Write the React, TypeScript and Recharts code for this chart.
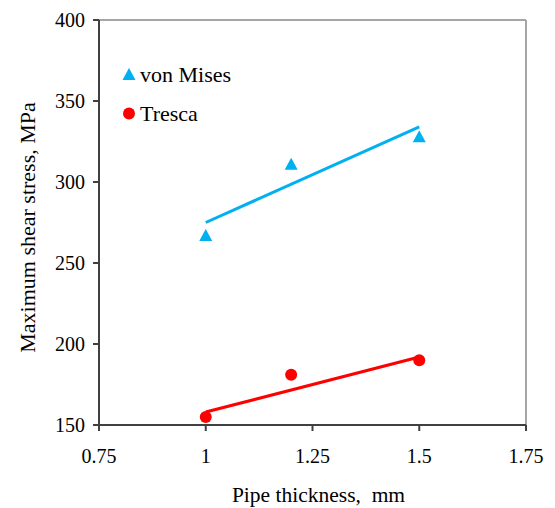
import {
  Legend,
  ReferenceLine,
  Scatter,
  ScatterChart,
  XAxis,
  YAxis,
} from "recharts";

const thickness = [1, 1.2, 1.5];
const vonMises = [267, 311, 328];
const tresca = [155, 181, 190];

const trendX = [1, 1.5];
const vonMisesTrend = [275, 334];
const trescaTrend = [158, 192];

const xTicks = [0.75, 1, 1.25, 1.5, 1.75];
const yTicks = [150, 200, 250, 300, 350, 400];

const BLUE = "#00B0F0";
const RED = "#FF0000";
const AXIS = "#404040";
const FONT = "Liberation Serif, serif";

const toPoints = (xs: number[], ys: number[]) => xs.map((x, i) => ({ x, y: ys[i] }));

const vonMisesData = toPoints(thickness, vonMises);
const trescaData = toPoints(thickness, tresca);
const vonMisesTrendData = toPoints(trendX, vonMisesTrend);
const trescaTrendData = toPoints(trendX, trescaTrend);

function Triangle({ cx, cy, fill }: any) {
  if (cx == null || cy == null) return null;
  return <polygon points={`${cx - 6.5},${cy + 5.5} ${cx + 6.5},${cy + 5.5} ${cx},${cy - 6.5}`} fill={fill} />;
}

function Dot({ cx, cy, fill }: any) {
  if (cx == null || cy == null) return null;
  return <circle cx={cx} cy={cy} r={6} fill={fill} />;
}

const Nothing = () => <g />;

// legend drawn as svg so it picks up the same serif as the axes
function LegendBox() {
  const rows = [
    { name: "von Mises", color: BLUE, tri: true },
    { name: "Tresca", color: RED, tri: false },
  ];
  return (
    <svg width={160} height={78} style={{ display: "block" }}>
      {rows.map((r, i) => {
        const cy = 19.5 + i * 39;
        return (
          <g key={r.name}>
            {r.tri ? (
              <polygon points={`${1.5},${cy + 5.5} ${14.5},${cy + 5.5} ${8},${cy - 6.5}`} fill={r.color} />
            ) : (
              <circle cx={8} cy={cy} r={6} fill={r.color} />
            )}
            <text
              x={19}
              y={cy + 7}
              style={{ fontFamily: FONT, fontSize: 22, fill: "#000" }}
            >
              {r.name}
            </text>
          </g>
        );
      })}
    </svg>
  );
}

const tickStyle = { fontFamily: FONT, fontSize: 20, fill: "#000" };

export default function App() {
  return (
    <div style={{ width: 547, height: 500, position: "relative" }}>
      <ScatterChart
        width={547}
        height={500}
        margin={{ top: 12, right: 29, bottom: 3, left: 31 }}
      >
        <XAxis
          type="number"
          dataKey="x"
          domain={[0.75, 1.75]}
          ticks={xTicks}
          tickFormatter={(v: number) => String(v)}
          height={80}
          tickSize={6}
          tickMargin={18}
          stroke={AXIS}
          strokeWidth={2}
          tick={tickStyle}
          allowDataOverflow
          label={{
            content: ({ viewBox }: any) => (
              <text
                x={viewBox.x + viewBox.width / 2 + 6}
                y={viewBox.y + viewBox.height - 3.5}
                textAnchor="middle"
                style={{ fontFamily: FONT, fontSize: 21.5, fill: "#000", whiteSpace: "pre" }}
              >
                Pipe thickness,  mm
              </text>
            ),
          }}
        />
        <YAxis
          type="number"
          dataKey="y"
          domain={[150, 400]}
          ticks={yTicks}
          width={60}
          tickSize={6}
          tickMargin={8}
          stroke={AXIS}
          strokeWidth={2}
          tick={tickStyle}
          allowDataOverflow
          label={{
            content: ({ viewBox }: any) => {
              const x = 27;
              const y = viewBox.y + viewBox.height / 2 + 5;
              return (
                <text
                  x={x}
                  y={y}
                  textAnchor="middle"
                  transform={`rotate(-90, ${x}, ${y})`}
                  style={{ fontFamily: FONT, fontSize: 22, fill: "#000" }}
                >
                  Maximum shear stress, MPa
                </text>
              );
            },
          }}
        />
        <ReferenceLine y={400} stroke="#A6A6A6" strokeWidth={2} />
        <ReferenceLine x={1.75} stroke="#A6A6A6" strokeWidth={2} />
        <Scatter
          name="von Mises trend"
          data={vonMisesTrendData}
          line={{ stroke: BLUE, strokeWidth: 3 }}
          lineType="joint"
          shape={Nothing}
          legendType="none"
          isAnimationActive={false}
        />
        <Scatter
          name="Tresca trend"
          data={trescaTrendData}
          line={{ stroke: RED, strokeWidth: 3 }}
          lineType="joint"
          shape={Nothing}
          legendType="none"
          isAnimationActive={false}
        />
        <Scatter
          name="von Mises"
          data={vonMisesData}
          fill={BLUE}
          shape={Triangle}
          isAnimationActive={false}
        />
        <Scatter
          name="Tresca"
          data={trescaData}
          fill={RED}
          shape={Dot}
          isAnimationActive={false}
        />
        <Legend
          layout="vertical"
          align="center"
          verticalAlign="middle"
          content={() => <LegendBox />}
          wrapperStyle={{ top: 47, left: 113, width: 160 }}
        />
      </ScatterChart>
    </div>
  );
}
